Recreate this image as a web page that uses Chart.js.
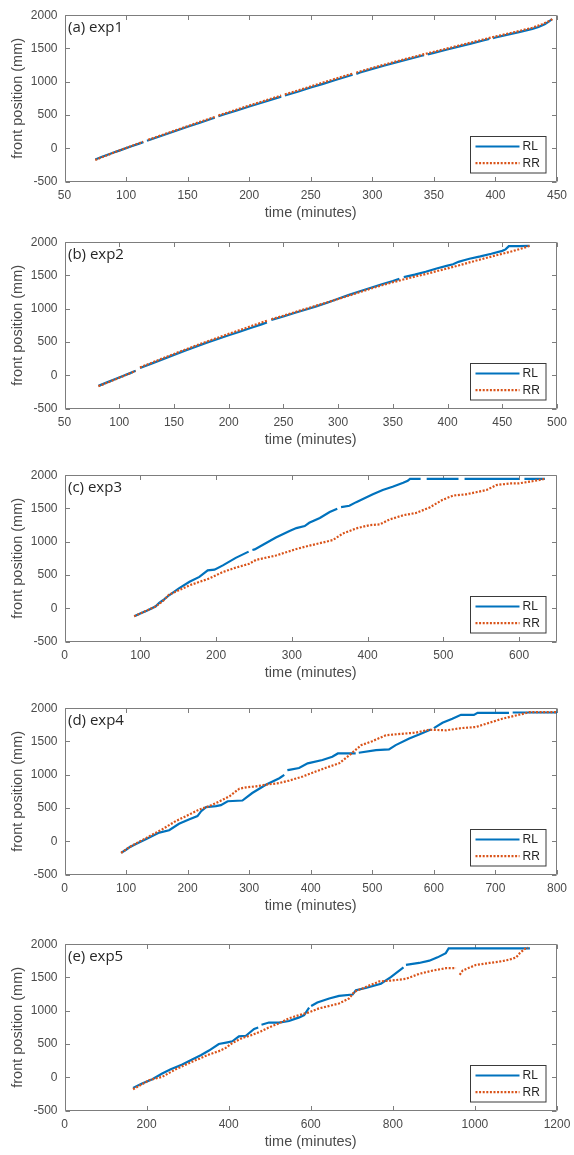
<!DOCTYPE html>
<html>
<head>
<meta charset="utf-8">
<script src="https://cdn.jsdelivr.net/npm/chart.js@4.4.1/dist/chart.umd.min.js"></script>
<style>
  html, body { margin: 0; padding: 0; background: #ffffff; }
  #page { position: relative; width: 574px; height: 1155px; overflow: hidden; background: #ffffff; }
  .panel { position: absolute; left: 0; width: 574px; height: 230px; }
  .panel canvas { display: block; }
</style>
</head>
<body>
<div id="page">
  <div class="panel" style="top:1px"><canvas id="exp1" width="574" height="230"></canvas></div>
  <div class="panel" style="top:228px"><canvas id="exp2" width="574" height="230"></canvas></div>
  <div class="panel" style="top:461px"><canvas id="exp3" width="574" height="230"></canvas></div>
  <div class="panel" style="top:694px"><canvas id="exp4" width="574" height="230"></canvas></div>
  <div class="panel" style="top:930px"><canvas id="exp5" width="574" height="230"></canvas></div>
</div>
<script>
// ---- front position data (time in minutes, position in mm); null = missing sample ----
const exp1RL_t = [75,80,85,90,95,100,105,110,114,115,117,120,130,140,150,160,170,172,173,175,180,190,200,210,220,226,227,229,240,250,260,270,280,284,285,287,290,300,310,320,330,340,342,343,345,350,360,370,380,390,395,396,398,400,410,420,430,435,440,443,446];
const exp1RL   = [-168,-132,-98,-65,-32,2,34,66,92,null,112,132,195,258,322,384,446,458,null,480,510,568,627,684,742,775,null,792,852,912,968,1025,1082,1104,null,1118,1138,1193,1244,1294,1342,1390,1398,null,1412,1433,1480,1527,1573,1620,1642,null,1655,1665,1708,1750,1795,1822,1862,1900,1940];
const exp1RR_t = [75,80,85,90,95,100,105,110,114,115,118,120,130,140,150,160,170,172,173,175,180,190,200,210,220,226,227,229,240,250,260,270,280,284,285,287,290,300,310,320,330,340,350,360,370,380,390,400,410,420,430,438,444,447];
const exp1RR   = [-178,-138,-102,-66,-30,5,38,72,98,null,126,140,204,268,332,396,458,470,null,492,522,582,642,700,758,792,null,810,870,930,988,1044,1100,1122,null,1136,1154,1208,1258,1308,1356,1404,1450,1496,1542,1588,1634,1680,1722,1765,1812,1865,1915,1950];

const exp2RL_t = [81,90,100,110,115,116,119,130,140,150,160,170,180,190,200,210,220,230,235,237,239,250,260,270,280,290,300,310,320,330,340,350,356,357,360,370,380,390,400,405,410,415,420,430,440,450,453,456,465,475];
const exp2RL   = [-160,-100,-35,32,66,null,110,178,242,306,370,430,490,546,600,655,710,765,792,null,830,882,935,985,1036,1090,1150,1208,1262,1316,1368,1416,1448,null,1475,1512,1556,1604,1648,1668,1705,1728,1752,1786,1826,1870,1892,1940,1940,1945];
const exp2RR_t = [81,90,100,110,115,116,119,130,140,150,160,170,180,190,200,210,220,230,236,237,239,250,260,270,280,290,300,310,320,330,340,350,358,370,380,390,400,410,420,430,440,450,460,470,475];
const exp2RR   = [-165,-105,-38,30,64,null,118,190,256,320,384,446,506,564,622,678,735,792,824,null,842,895,946,996,1046,1096,1146,1198,1250,1302,1352,1398,1432,1482,1522,1564,1606,1650,1696,1740,1784,1826,1868,1916,1945];

const exp3RL_t = [92,100,110,120,125,130,138,151,165,178,189,198,209,226,243,245,248,251,262,279,297,306,317,323,337,350,360,362,365,376,385,398,407,420,433,447,453,456,470,473,478,520,523,528,600,603,607,634];
const exp3RL   = [-121,-80,-30,25,80,120,195,299,397,471,570,580,644,757,851,null,875,885,954,1062,1161,1205,1235,1284,1358,1447,1497,null,1520,1541,1595,1664,1713,1778,1827,1886,1916,1945,1945,null,1945,1945,null,1945,1945,null,1945,1945];
const exp3RR_t = [92,100,110,120,130,138,150,165,191,209,226,244,253,279,306,323,354,367,385,403,416,429,447,464,482,499,513,530,543,557,570,588,600,615,625,634];
const exp3RR   = [-121,-78,-28,25,110,205,265,345,447,545,610,669,728,792,891,940,1024,1121,1201,1250,1260,1334,1398,1432,1516,1630,1694,1713,1743,1778,1852,1876,1878,1905,1925,1945];

const exp4RL_t = [92,100,105,116,132,154,170,186,203,216,222,230,246,254,265,289,305,327,349,357,359,362,365,381,395,419,435,444,473,475,478,506,527,538,560,576,595,597,600,614,630,644,665,671,722,725,728,800];
const exp4RL   = [-175,-128,-94,-43,31,130,165,263,329,378,452,512,527,542,601,612,725,850,948,999,null,1068,1073,1100,1171,1222,1271,1320,1320,null,1330,1370,1380,1445,1543,1603,1680,null,1700,1781,1841,1900,1900,1930,1930,null,1935,1935];
const exp4RR_t = [92,105,132,159,181,203,219,235,252,268,284,295,311,327,349,365,387,408,430,446,463,482,500,522,533,571,592,620,646,668,690,711,722,740,755,800];
const exp4RR   = [-175,-90,46,180,304,403,478,527,601,676,790,810,825,850,875,912,973,1048,1122,1171,1296,1445,1504,1594,1603,1633,1677,1668,1702,1717,1781,1841,1866,1905,1940,1940];

const exp5RL_t = [167,189,214,238,259,287,311,332,352,376,397,409,425,442,462,472,475,480,498,523,547,572,584,590,596,598,601,616,645,669,702,710,734,771,795,826,828,832,864,889,909,929,936,1000,1134];
const exp5RL   = [-160,-94,-30,55,119,193,267,332,401,500,525,540,615,624,727,748,null,790,822,822,846,900,935,990,1045,null,1070,1124,1183,1223,1243,1307,1342,1406,1505,1650,null,1688,1718,1752,1802,1866,1936,1936,1936];
const exp5RR_t = [167,206,238,271,311,352,376,393,409,433,458,478,498,523,547,572,596,620,637,669,693,706,734,767,799,832,864,897,929,954,958,963,970,1002,1035,1059,1084,1100,1110,1122,1130];
const exp5RR   = [-180,-45,6,119,233,341,392,441,515,589,638,688,748,812,886,935,975,1035,1060,1109,1183,1283,1357,1440,1455,1480,1554,1604,1639,1639,null,1540,1604,1688,1718,1737,1767,1800,1870,1930,1945];

// ---- axis settings ----
const panelTags  = ['(a) exp1', '(b) exp2', '(c) exp3', '(d) exp4', '(e) exp5'];
const timeMin    = [50, 50, 0, 0, 0];
const timeMax    = [450, 500, 650, 800, 1200];
const timeStep   = [50, 50, 100, 100, 200];
const posMin = -500, posMax = 2000, posStep = 500;
const seriesNames = ['RL', 'RR'];

const AXIS_COLOR = '#7d7d7d';
const TEXT_COLOR = '#4a4a4a';
const RL_COLOR = '#0072BD';
const RR_COLOR = '#D95319';
const TICK_FONT = { family: '"Liberation Sans", Arial, sans-serif', size: 12 };
const TITLE_FONT = { family: '"Liberation Sans", Arial, sans-serif', size: 14.5 };
const TICK_LEN = 4.5;

function toPoints(ts, vs) {
  return ts.map((t, i) => ({ x: t, y: vs[i] }));
}

// plain numbers, no thousands separator
const plainLabel = v => String(v);

// Box around the plot area with inward tick marks on all four sides
const frameBox = {
  id: 'frameBox',
  beforeDatasetsDraw(chart) {
    const { ctx, chartArea: a, scales } = chart;
    const L = Math.round(a.left) + 0.5, R = Math.round(a.right) - 0.5;
    const T = Math.round(a.top) + 0.5, B = Math.round(a.bottom) - 0.5;
    ctx.save();
    ctx.strokeStyle = AXIS_COLOR;
    ctx.lineWidth = 1;
    ctx.beginPath();
    ctx.rect(L, T, R - L, B - T);
    scales.x.ticks.forEach(t => {
      const px = Math.round(scales.x.getPixelForValue(t.value)) + 0.5;
      ctx.moveTo(px, B); ctx.lineTo(px, B - TICK_LEN);
      ctx.moveTo(px, T); ctx.lineTo(px, T + TICK_LEN);
    });
    scales.y.ticks.forEach(t => {
      const py = Math.round(scales.y.getPixelForValue(t.value)) + 0.5;
      ctx.moveTo(L, py); ctx.lineTo(L + TICK_LEN, py);
      ctx.moveTo(R, py); ctx.lineTo(R - TICK_LEN, py);
    });
    ctx.stroke();
    ctx.restore();
  }
};

// Panel tag in the upper-left corner and boxed legend in the lower-right corner
const insideDecor = {
  id: 'insideDecor',
  afterDraw(chart, args, opts) {
    const { ctx, chartArea: a } = chart;
    ctx.save();
    ctx.font = '15px "Open Sans", "Noto Sans", sans-serif';
    ctx.fillStyle = '#262626';
    ctx.textBaseline = 'alphabetic';
    ctx.textAlign = 'left';
    ctx.fillText(opts.tag, a.left + 3.5, a.top + 16.5);

    const w = 75.5, h = 36.5;
    const bx = Math.round(a.right - 11.5 - w) + 0.5;
    const by = Math.round(a.bottom - 9 - h) + 0.5;
    ctx.fillStyle = '#ffffff';
    ctx.fillRect(bx, by, w, h);
    ctx.strokeStyle = '#3a3a3a';
    ctx.lineWidth = 1;
    ctx.strokeRect(bx, by, w, h);

    ctx.font = '12px "Liberation Sans", Arial, sans-serif';
    ctx.textBaseline = 'middle';
    chart.data.datasets.forEach((ds, i) => {
      const yy = by + 10 + i * 16.6;
      ctx.save();
      ctx.strokeStyle = ds.borderColor;
      ctx.lineWidth = ds.borderWidth;
      ctx.setLineDash(ds.borderDash || []);
      ctx.lineCap = 'butt';
      ctx.beginPath();
      ctx.moveTo(bx + 5, yy);
      ctx.lineTo(bx + 49, yy);
      ctx.stroke();
      ctx.restore();
      ctx.fillStyle = '#262626';
      ctx.fillText(ds.label, bx + 52, yy + 0.5);
    });
    ctx.restore();
  }
};

const allRL_t = [exp1RL_t, exp2RL_t, exp3RL_t, exp4RL_t, exp5RL_t];
const allRL   = [exp1RL, exp2RL, exp3RL, exp4RL, exp5RL];
const allRR_t = [exp1RR_t, exp2RR_t, exp3RR_t, exp4RR_t, exp5RR_t];
const allRR   = [exp1RR, exp2RR, exp3RR, exp4RR, exp5RR];
const canvasIds = ['exp1', 'exp2', 'exp3', 'exp4', 'exp5'];

canvasIds.forEach((cid, k) => {
  new Chart(document.getElementById(cid), {
    type: 'line',
    data: {
      datasets: [
        {
          label: seriesNames[0],
          data: toPoints(allRL_t[k], allRL[k]),
          borderColor: RL_COLOR,
          borderWidth: 2.2,
          pointRadius: 0,
          spanGaps: false,
          tension: 0,
          order: 1
        },
        {
          label: seriesNames[1],
          data: toPoints(allRR_t[k], allRR[k]),
          borderColor: RR_COLOR,
          borderWidth: 2.2,
          borderDash: [2, 1.6],
          borderCapStyle: 'butt',
          pointRadius: 0,
          spanGaps: false,
          tension: 0,
          order: 0
        }
      ]
    },
    options: {
      responsive: false,
      animation: false,
      devicePixelRatio: 1,
      layout: { padding: { top: 12, right: 17, left: 0, bottom: 0 } },
      plugins: {
        legend: { display: false },
        tooltip: { enabled: false },
        insideDecor: { tag: panelTags[k] }
      },
      scales: {
        x: {
          type: 'linear',
          min: timeMin[k],
          max: timeMax[k],
          grid: { display: false, drawTicks: false },
          border: { display: false },
          ticks: {
            stepSize: timeStep[k],
            includeBounds: false,
            autoSkip: false,
            maxRotation: 0,
            padding: 6.6,
            color: TEXT_COLOR,
            font: TICK_FONT,
            callback: plainLabel
          },
          title: {
            display: true,
            text: 'time (minutes)',
            color: TEXT_COLOR,
            font: TITLE_FONT,
            padding: { top: 0, bottom: 9.3 }
          },
          // fixed axis band; edge labels may overhang into the side margins
          afterFit(scale) {
            scale.height = 49.5;
            scale.paddingLeft = 0;
            scale.paddingRight = 0;
          }
        },
        y: {
          type: 'linear',
          min: posMin,
          max: posMax,
          grid: { display: false, drawTicks: false },
          border: { display: false },
          ticks: {
            stepSize: posStep,
            includeBounds: false,
            padding: 7,
            color: TEXT_COLOR,
            font: TICK_FONT,
            callback: plainLabel
          },
          title: {
            display: true,
            text: 'front position (mm)',
            color: TEXT_COLOR,
            font: TITLE_FONT,
            padding: { top: 9.3, bottom: 0 }
          },
          afterFit(scale) { scale.width = 64.5; }
        }
      }
    },
    plugins: [frameBox, insideDecor]
  });
});
</script>
</body>
</html>
